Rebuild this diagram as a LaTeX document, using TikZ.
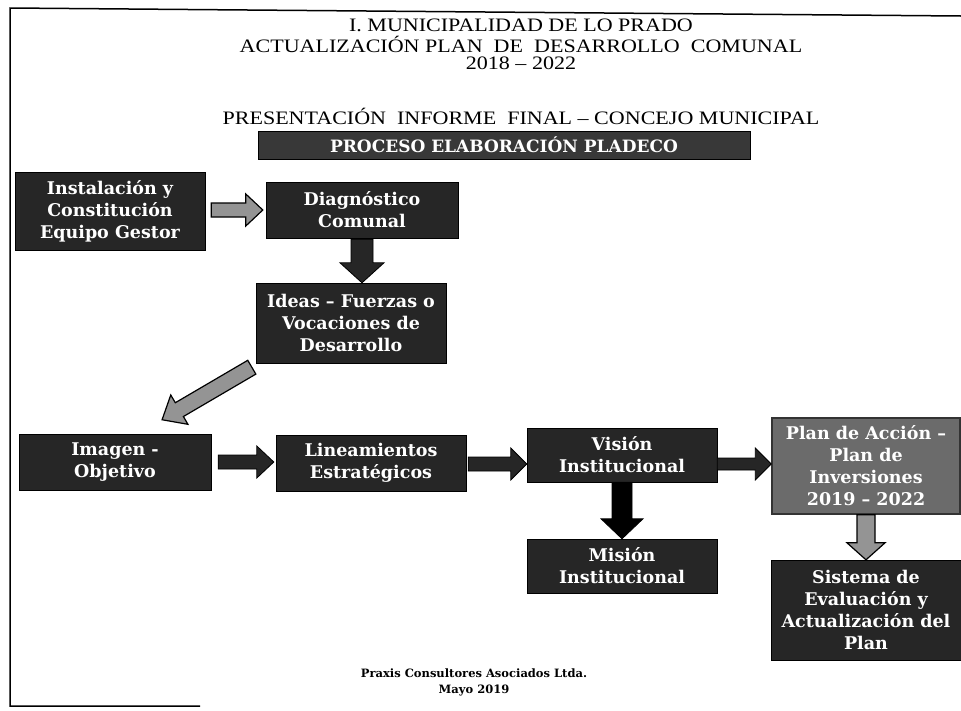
\documentclass[tikz,border=0pt]{standalone}
\usepackage{fontspec}
\setmainfont{Liberation Serif}
\newfontfamily\bxfont{DejaVu Serif}
\usetikzlibrary{calc}
\newcommand{\hwide}[1]{\scalebox{1.16}[1]{#1}}
\tikzset{
  box/.style={rectangle, fill=black!85, draw=black, text=white, align=center,
    inner sep=2pt, font=\bxfont\bfseries\fontsize{17.5}{22}\selectfont},
  greybox/.style={box, fill=black!58, draw=black!80, line width=1.5pt},
  hdr/.style={font=\fontsize{19}{20}\selectfont, inner sep=0pt},
  foot/.style={font=\bxfont\bfseries\fontsize{11.5}{16}\selectfont, align=center, inner sep=0pt},
  barrow/.style n args={3}{to path={let \p1=(\tikztostart), \p2=(\tikztotarget),
      \n1={atan2(\y2-\y1,\x2-\x1)}, \n2={veclen(\x2-\x1,\y2-\y1)} in
      {[shift={(\p1)}, rotate=\n1] (0,-#1) -- ({\n2-#3},-#1) -- ({\n2-#3},-#2)
       -- (\n2,0) -- ({\n2-#3},#2) -- ({\n2-#3},#1) -- (0,#1) -- cycle}}},
  darkarrow/.style={fill=black!85, draw=black, line width=0.8pt},
  lightarrow/.style={fill=black!42, draw=black, line width=1.2pt},
}
\begin{document}
\begin{tikzpicture}[x=1pt,y=-1pt]
\useasboundingbox (0,0) rectangle (961,710);
\fill[white] (0,0) rectangle (961,710);
% page frame
\draw[line width=1.5pt] (961,16) -- (10,8) -- (10,706) -- (200,706);
% headers
\node[hdr] (h1) at (521,25) {\hwide{I. MUNICIPALIDAD DE LO PRADO}};
\node[hdr] (h2) at (521,44) {\hwide{ACTUALIZACIÓN PLAN \ DE \ DESARROLLO \ COMUNAL}};
\node[hdr] (h3) at (521,63) {\hwide{2018 – 2022}};
\node[hdr] (h4) at (521,116) {\hwide{PRESENTACIÓN \ INFORME \ FINAL – CONCEJO MUNICIPAL}};
\node[box, fill=black!78, font=\bxfont\bfseries\fontsize{17}{20}\selectfont, minimum width=492pt, minimum height=28pt] (bar) at (504,145) {PROCESO ELABORACIÓN PLADECO};
% boxes
\node[box, minimum width=190pt, minimum height=78pt] (inst) at (110,211) {Instalación y\\Constitución\\Equipo Gestor};
\node[box, minimum width=192pt, minimum height=56pt] (diag) at (362,210) {Diagnóstico\\Comunal};
\node[box, minimum width=190pt, minimum height=80pt] (ideas) at (351,323) {Ideas – Fuerzas o\\Vocaciones de\\Desarrollo};
\node[box, minimum width=192pt, minimum height=56pt] (imagen) at (115,462) {Imagen -\\Objetivo};
\node[box, minimum width=190pt, minimum height=56pt] (linea) at (371,463) {Lineamientos\\Estratégicos};
\node[box, minimum width=190pt, minimum height=54pt] (vision) at (622,455) {Visión\\Institucional};
\node[box, minimum width=190pt, minimum height=54pt] (mision) at (622,566) {Misión\\Institucional};
\node[greybox, minimum width=188pt, minimum height=96pt] (plan) at (866,466) {Plan de Acción –\\Plan de\\Inversiones\\2019 – 2022};
\node[box, minimum width=190pt, minimum height=100pt] (sistema) at (866,610) {Sistema de\\Evaluación y\\Actualización del\\Plan};
% footer
\node[foot] (ft) at (474,682) {Praxis Consultores Asociados Ltda.\\Mayo 2019};
% arrows
\draw[lightarrow] ([xshift=6pt]inst.east |- diag.west) to[barrow={7}{16}{17}] ([xshift=-3pt]diag.west);
\draw[darkarrow] ([yshift=-1pt]diag.south) to[barrow={11}{22}{20}] (diag.south |- ideas.north);
\draw[lightarrow] ([shift={(-4pt,-4pt)}]ideas.south west) to[barrow={8}{17}{20}] ([shift={(47pt,14pt)}]imagen.north);
\draw[darkarrow] ([xshift=7pt]imagen.east) to[barrow={7}{16}{17}] ([xshift=-2pt]imagen.east -| linea.west);
\coordinate (lva) at ([xshift=2pt, yshift=-1pt]linea.east);
\draw[darkarrow] (lva) to[barrow={7}{16}{16}] (lva -| vision.west);
\coordinate (vpa) at ([yshift=-9pt]vision.east);
\draw[darkarrow] (vpa) to[barrow={6}{16}{16}] (vpa -| plan.west);
\draw[darkarrow, fill=black] (vision.south) to[barrow={10}{21}{20}] (mision.north);
\draw[lightarrow] (plan.south) to[barrow={9}{19}{17}] (sistema.north);
\end{tikzpicture}
\end{document}
